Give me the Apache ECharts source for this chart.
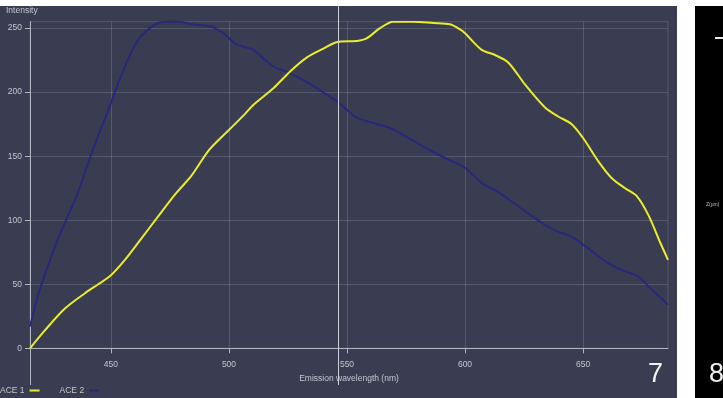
<!DOCTYPE html>
<html>
<head>
<meta charset="utf-8">
<title>Emission spectra</title>
<script src="https://cdn.jsdelivr.net/npm/echarts@6/dist/echarts.min.js"></script>
<style>
  html, body { margin: 0; padding: 0; background: #ffffff; }
  #chart { width: 723px; height: 398px; }
</style>
</head>
<body>
<div id="chart"></div>
<script>
// Wavelength range of the scan (nm) and intensity range
const xMin = 415.7;
const xMax = 686;
const yMax = 255;
const cursorNm = 546.2;

const seriesNames = ['ACE 1', 'ACE 2'];
const xTicks = [450, 500, 550, 600, 650];
const yTicks = [0, 50, 100, 150, 200, 250];

// ACE 1: [wavelength nm, intensity]
const ace1 = [
  [415.7, 0], [422.0, 14], [430.5, 31], [439.0, 43], [444.6, 50], [450.0, 57],
  [455.9, 69], [463.0, 86], [470.0, 103], [477.1, 120], [484.2, 135], [491.2, 154],
  [496.9, 165], [502.5, 175], [506.8, 183], [510.3, 190], [518.8, 203], [525.8, 216],
  [532.9, 227], [540.0, 234], [545.6, 239], [554.1, 240], [558.3, 242], [564.0, 250],
  [569.6, 255], [578.1, 255], [586.6, 254], [593.6, 253], [597.9, 249], [600.0, 246],
  [607.1, 233], [612.7, 229], [618.4, 223], [625.4, 206], [633.9, 188], [639.5, 181],
  [645.2, 175], [650.1, 164], [656.5, 146], [662.1, 133], [667.8, 125], [672.7, 119],
  [677.7, 104], [682.6, 83], [686.0, 69]
];

// ACE 2: [wavelength nm, intensity]
const ace2 = [
  [415.7, 17], [419.2, 42], [423.4, 65], [427.7, 86], [431.9, 104], [436.1, 122],
  [440.4, 145], [444.6, 166], [448.9, 186], [453.1, 207], [457.3, 226], [461.6, 241],
  [465.8, 249], [470.0, 254], [474.3, 255], [478.5, 255], [484.2, 253], [492.7, 251],
  [498.3, 245], [502.5, 238], [506.8, 235], [510.3, 233], [518.8, 220], [524.5, 216],
  [532.9, 208], [541.4, 198], [547.0, 191], [554.1, 180], [561.1, 176], [568.2, 172],
  [575.3, 165], [583.8, 156], [592.2, 148], [600.0, 141], [607.1, 129], [614.1, 122],
  [624.0, 109], [632.5, 98], [638.1, 92], [645.2, 87], [652.2, 78], [659.3, 68],
  [666.4, 61], [673.4, 56], [679.1, 46], [686.0, 34]
];

const PANEL = '#3a3d52';
const FONT = 'Liberation Sans, Arial, sans-serif';
const TEXT = '#c4c5cf';
const AXIS = '#b4b5c2';
const GRIDLINE = 'rgba(255,255,255,0.14)';
const YELLOW = '#ecec2a';
const BLUE = '#27277c';

const chart = echarts.init(document.getElementById('chart'), null, { renderer: 'canvas' });

const option = {
  animation: false,
  backgroundColor: PANEL,
  textStyle: { fontFamily: FONT },
  grid: {
    left: 30, right: 55, top: 21.7, bottom: 49.7,
    show: true, borderColor: GRIDLINE, borderWidth: 1, backgroundColor: 'transparent'
  },
  legend: {
    data: seriesNames,
    left: 0, top: 386,
    padding: 0,
    align: 'right',
    itemGap: 20,
    itemWidth: 10, itemHeight: 2,
    icon: 'rect',
    textStyle: { color: TEXT, fontSize: 8.5, fontFamily: FONT, padding: 0 }
  },
  xAxis: {
    type: 'value', min: xMin, max: xMax,
    name: 'Emission wavelength (nm)', nameLocation: 'middle', nameGap: 23,
    nameTextStyle: { color: TEXT, fontSize: 8.5, fontFamily: FONT },
    axisLine: { lineStyle: { color: AXIS, width: 1 } },
    axisTick: { customValues: xTicks, length: 5, lineStyle: { color: AXIS } },
    axisLabel: { customValues: xTicks, color: TEXT, fontSize: 8.5, margin: 12, fontFamily: FONT },
    splitLine: { show: true, lineStyle: { color: GRIDLINE, width: 1 } }
  },
  yAxis: {
    type: 'value', min: 0, max: yMax,
    axisLine: { show: true, lineStyle: { color: AXIS, width: 1 } },
    axisTick: { show: true, customValues: yTicks, length: 5, lineStyle: { color: AXIS } },
    axisLabel: { customValues: yTicks, color: TEXT, fontSize: 8.5, margin: 8, fontFamily: FONT },
    splitLine: { show: true, lineStyle: { color: GRIDLINE, width: 1 } }
  },
  series: [
    {
      name: seriesNames[0], type: 'line', data: ace1, smooth: 0.3,
      showSymbol: false, z: 3,
      lineStyle: { color: YELLOW, width: 2 }, itemStyle: { color: YELLOW }
    },
    {
      name: seriesNames[1], type: 'line', data: ace2, smooth: 0.3,
      showSymbol: false, z: 2,
      lineStyle: { color: BLUE, width: 2 }, itemStyle: { color: BLUE }
    }
  ]
};
chart.setOption(option);

// Frame decoration: white margins, black side strip and overlay labels
const origin = chart.convertToPixel({ gridIndex: 0 }, [xMin, 0]);
const cursorX = chart.convertToPixel({ gridIndex: 0 }, [cursorNm, 0])[0];

chart.setOption({
  graphic: [
    { id: 'yext', type: 'line', z: 5, silent: true,
      shape: { x1: Math.round(origin[0]) + 0.5, y1: origin[1], x2: Math.round(origin[0]) + 0.5, y2: 385 },
      style: { stroke: AXIS, lineWidth: 1 } },
    { id: 'cursor', type: 'line', z: 6, silent: true,
      shape: { x1: Math.round(cursorX) + 0.5, y1: 6, x2: Math.round(cursorX) + 0.5, y2: 385 },
      style: { stroke: '#cfd0da', lineWidth: 1 } },
    { id: 'ylabel', type: 'text', left: 6, top: 6, z: 6,
      style: { text: 'Intensity', fill: TEXT, font: '8.5px ' + FONT } },
    { id: 'num7', type: 'text', left: 648, top: 361, z: 6,
      style: { text: '7', fill: '#f2f2f4', font: '27px ' + FONT } },
    { id: 'topStrip', type: 'rect', z: 100, silent: true,
      shape: { x: 0, y: 0, width: 723, height: 6 }, style: { fill: '#ffffff' } },
    { id: 'gap', type: 'rect', z: 100, silent: true,
      shape: { x: 677, y: 0, width: 18, height: 398 }, style: { fill: '#ffffff' } },
    { id: 'side', type: 'rect', z: 100, silent: true,
      shape: { x: 695, y: 6, width: 28, height: 392 }, style: { fill: '#000000' } },
    { id: 'dash', type: 'rect', z: 101, silent: true,
      shape: { x: 715, y: 37, width: 8, height: 2 }, style: { fill: '#e8e8e8' } },
    { id: 'zlabel', type: 'text', left: 706, top: 202, z: 101,
      style: { text: 'Z(µm)', fill: '#bdbdbd', font: '5px ' + FONT } },
    { id: 'num8', type: 'text', left: 709, top: 361, z: 101,
      style: { text: '8', fill: '#f2f2f4', font: '27px ' + FONT } }
  ]
});
</script>
</body>
</html>
